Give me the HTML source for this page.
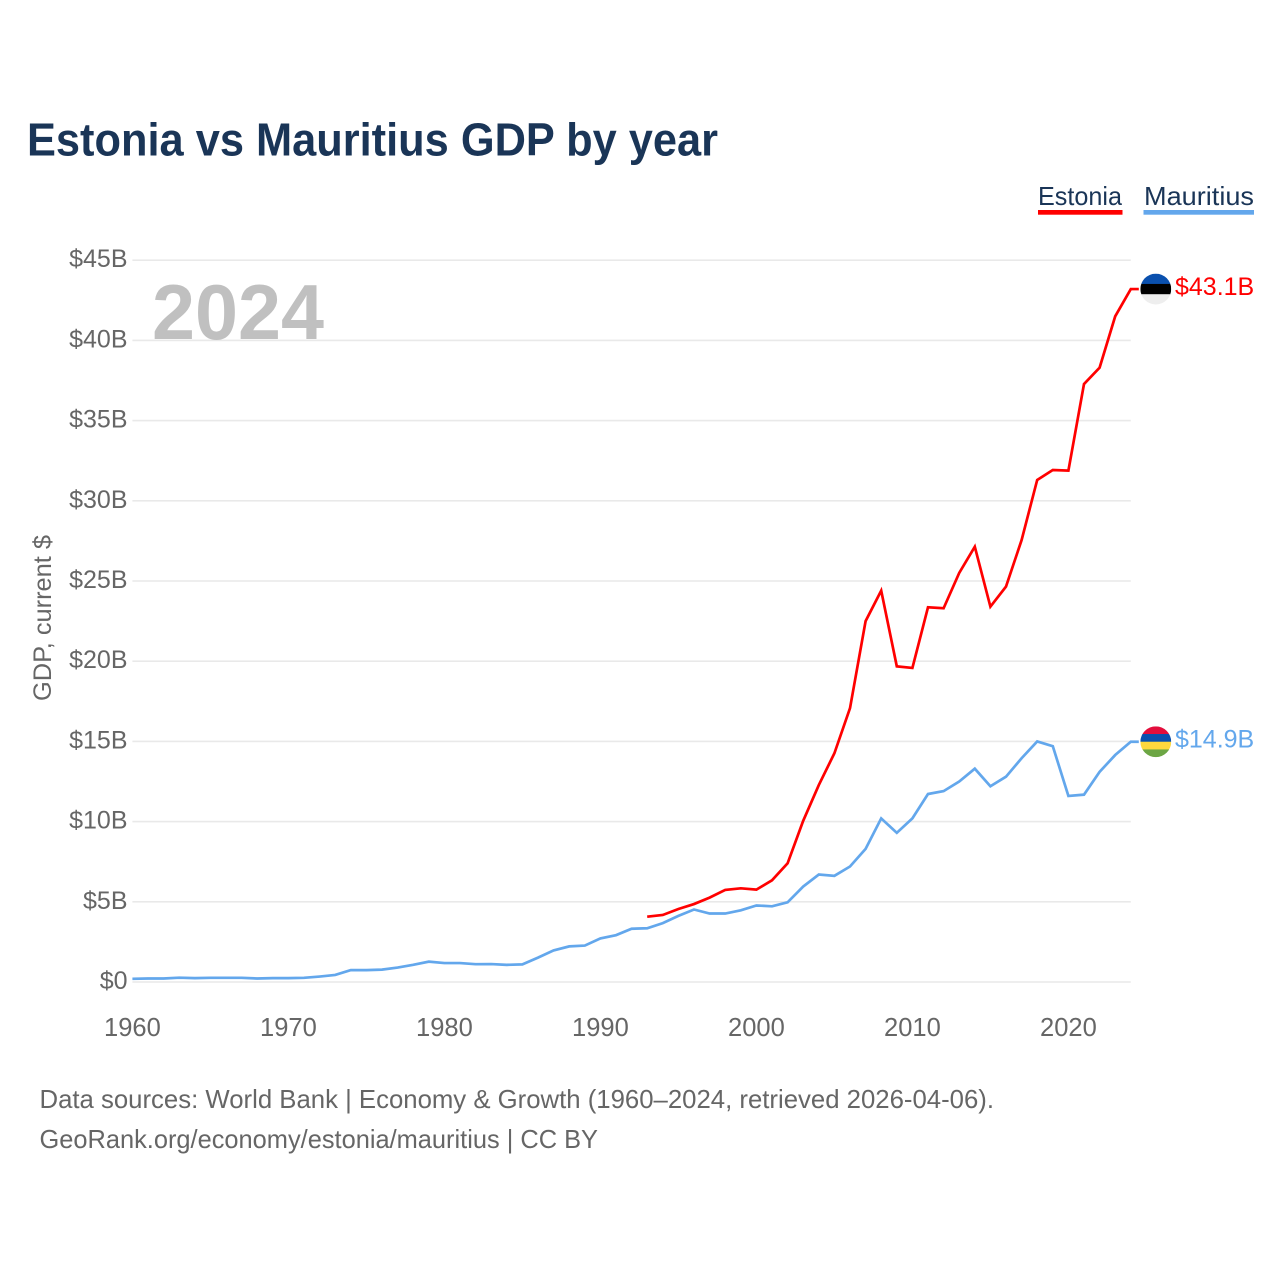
<!DOCTYPE html>
<html lang="en">
<head>
<meta charset="utf-8">
<title>Estonia vs Mauritius GDP by year</title>
<style>
html,body{margin:0;padding:0;background:#fff;}
svg{display:block;font-family:"Liberation Sans",Arial,sans-serif;}
</style>
</head>
<body>
<svg id="chart" xmlns="http://www.w3.org/2000/svg" width="1280" height="1280" viewBox="0 0 1280 1280">
  <rect x="0" y="0" width="1280" height="1280" fill="#fff"/>
  <text x="27" y="155.5" font-size="46" font-weight="700" fill="#1a3557" textLength="691" lengthAdjust="spacingAndGlyphs">Estonia vs Mauritius GDP by year</text>

  <g>
    <g>
      <text x="1038" y="205" font-size="26" fill="#1a3557" textLength="84" lengthAdjust="spacingAndGlyphs">Estonia</text>
      <rect x="1038" y="210" width="84.5" height="4.7" fill="#ff0000"/>
    </g>
    <g>
      <text x="1144" y="205" font-size="26" fill="#1a3557" textLength="110" lengthAdjust="spacingAndGlyphs">Mauritius</text>
      <rect x="1143.5" y="210" width="110.5" height="4.7" fill="#63a7ec"/>
    </g>
  </g>

  <g id="grid"></g>
  <g id="yticks"></g>
  <g id="xticks"></g>

  <text transform="translate(51,618) rotate(-90)" text-anchor="middle" font-size="25" fill="#666" textLength="166" lengthAdjust="spacingAndGlyphs">GDP, current $</text>
  <text x="152" y="339" font-size="78" font-weight="700" fill="#c0c0c0" textLength="172" lengthAdjust="spacingAndGlyphs">2024</text>

  <g id="series"></g>
  <g id="ends"></g>

  <text x="39.5" y="1108" font-size="26" fill="#666" textLength="954.5" lengthAdjust="spacingAndGlyphs">Data sources: World Bank | Economy &amp; Growth (1960–2024, retrieved 2026-04-06).</text>
  <text x="39.5" y="1148" font-size="26" fill="#666" textLength="558.5" lengthAdjust="spacingAndGlyphs">GeoRank.org/economy/estonia/mauritius | CC BY</text>
</svg>

<script>
const yTickValues = [0, 5, 10, 15, 20, 25, 30, 35, 40, 45];
const yTickLabels = ['$0', '$5B', '$10B', '$15B', '$20B', '$25B', '$30B', '$35B', '$40B', '$45B'];
const xTickYears = [1960, 1970, 1980, 1990, 2000, 2010, 2020];
const mauritiusStartYear = 1960;
const mauritiusValues = [
  0.2, 0.22, 0.22, 0.27, 0.24, 0.26, 0.26, 0.26, 0.22, 0.24,
  0.24, 0.26, 0.34, 0.44, 0.74, 0.74, 0.77, 0.9, 1.07, 1.27,
  1.18, 1.18, 1.11, 1.12, 1.07, 1.1, 1.52, 1.97, 2.22, 2.27,
  2.72, 2.92, 3.32, 3.35, 3.67, 4.12, 4.52, 4.27, 4.27, 4.47,
  4.77, 4.72, 4.97, 5.95, 6.7, 6.62, 7.2, 8.3, 10.2, 9.3,
  10.2, 11.72, 11.9, 12.5, 13.3, 12.2, 12.8, 13.95, 15.0, 14.7,
  11.6, 11.68, 13.1, 14.15, 14.98
];
const estoniaStartYear = 1993;
const estoniaValues = [
  4.07, 4.18, 4.55, 4.86, 5.26, 5.74, 5.84, 5.76, 6.34, 7.4,
  10.05, 12.28, 14.26, 17.07, 22.5, 24.4, 19.68, 19.58, 23.36, 23.3,
  25.5, 27.14, 23.4, 24.65, 27.55, 31.3, 31.92, 31.88, 37.28, 38.3,
  41.5, 43.2
];
const estoniaEndLabel = '$43.1B';
const mauritiusEndLabel = '$14.9B';
const estoniaFlagBands = ['#0a50ae', '#000000', '#eeeeee'];
const mauritiusFlagBands = ['#e30e3c', '#0a50ae', '#ffd83e', '#6ca644'];

const SVG_NS = 'http://www.w3.org/2000/svg';
const xScale = year => 132.4 + (year - 1960) * 15.6;
const yScale = value => 982 - value * 16.04;
const lastYear = 2024;

function make(tag, attrs, parent) {
  const el = document.createElementNS(SVG_NS, tag);
  for (const k in attrs) el.setAttribute(k, attrs[k]);
  parent.appendChild(el);
  return el;
}

const grid = document.getElementById('grid');
const yticks = document.getElementById('yticks');
yTickValues.forEach((v, i) => {
  const line = make('line', {x1: xScale(1960), x2: xScale(lastYear), y1: yScale(v), y2: yScale(v), stroke: '#e9e9e9', 'stroke-width': 1.6}, grid);
  
  
  const t = make('text', {x: 127.5, y: yScale(v) + 7, 'text-anchor': 'end', 'font-size': 25, fill: '#666'}, yticks);
  
  
  t.textContent = yTickLabels[i];
});

const xticks = document.getElementById('xticks');
xTickYears.forEach(year => {
  const t = make('text', {x: xScale(year), y: 1036, 'text-anchor': 'middle', 'font-size': 25.5, fill: '#666'}, xticks);
  
  
  t.textContent = year;
});

function pointsFor(startYear, values) {
  return values.map((v, i) => xScale(startYear + i).toFixed(2) + ',' + yScale(v).toFixed(2));
}

const series = document.getElementById('series');
const ends = document.getElementById('ends');

function drawEnd(slug, values, color, label, bands) {
  const lastV = values[values.length - 1];
  const cy = yScale(lastV);
  const cx = 1155.8;
  const r = 15.4;
  const group = make('g', {}, ends);
  
  
  const clip = make('clipPath', {id: 'clip-' + slug}, group);
  make('circle', {cx: cx, cy: cy, r: r}, clip);
  const flag = make('g', {'clip-path': 'url(#clip-' + slug + ')'}, group);
  
  
  const h = 2 * r / bands.length;
  bands.forEach((c, i) => {
    make('rect', {x: cx - r, y: cy - r + i * h, width: 2 * r, height: h + 0.3, fill: c}, flag);
  });
  const t = make('text', {x: 1175, y: cy + 6, 'font-size': 25, fill: color}, group);
  
  
  t.textContent = label;
}

function drawSeries(slug, startYear, values, color) {
  const pts = pointsFor(startYear, values);
  const lastY = yScale(values[values.length - 1]).toFixed(2);
  pts.push((xScale(lastYear) + 8).toFixed(2) + ',' + lastY);
  const line = make('polyline', {points: pts.join(' '), fill: 'none', stroke: color, 'stroke-width': 2.7, 'stroke-linejoin': 'miter'}, series);
  
  
}

drawSeries('mauritius', mauritiusStartYear, mauritiusValues, '#63a7ec');
drawSeries('estonia', estoniaStartYear, estoniaValues, '#ff0000');
drawEnd('estonia', estoniaValues, '#ff0000', estoniaEndLabel, estoniaFlagBands);
drawEnd('mauritius', mauritiusValues, '#63a7ec', mauritiusEndLabel, mauritiusFlagBands);
</script>
</body>
</html>
